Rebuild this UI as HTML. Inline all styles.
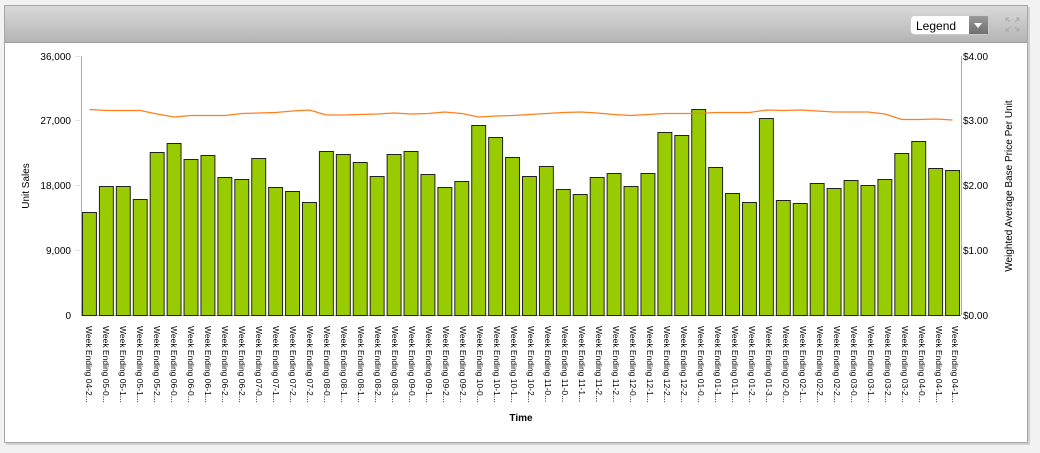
<!DOCTYPE html>
<html><head><meta charset="utf-8"><style>
body{margin:0;background:#f2f2f2;width:1040px;height:448px;overflow:hidden;font-family:"Liberation Sans",sans-serif}
</style></head><body>
<svg width="1040" height="448" xmlns="http://www.w3.org/2000/svg" font-family="Liberation Sans, sans-serif">
<defs><linearGradient id="hg" x1="0" y1="0" x2="0" y2="1"><stop offset="0" stop-color="#dadada"/><stop offset="1" stop-color="#b4b4b4"/></linearGradient>
<linearGradient id="bg" x1="0" y1="0" x2="0" y2="1"><stop offset="0" stop-color="#9a9a9a"/><stop offset="1" stop-color="#6f6f6f"/></linearGradient></defs>
<rect x="6" y="7" width="1024" height="438" fill="#d0d0d0"/>
<rect x="4.5" y="5.5" width="1023" height="437" fill="#fff" stroke="#a8a8a8"/>
<rect x="5" y="6" width="1022" height="36" fill="url(#hg)"/>
<line x1="5" y1="42.5" x2="1027" y2="42.5" stroke="#a0a0a0"/>
<rect x="910.5" y="15.5" width="78" height="19" rx="4" fill="#fff" stroke="#ccc"/>
<rect x="969" y="16" width="19" height="18" fill="url(#bg)"/>
<polygon points="974,23 982,23 978,28" fill="#fff"/>
<text x="916" y="30" font-size="12" fill="#000">Legend</text>
<g stroke="#aaa" stroke-width="1" fill="none"><path d="M1006 18l4 4M1006 18h3M1006 18v3M1019 18l-4 4M1019 18h-3M1019 18v3M1006 31l4-4M1006 31h3M1006 31v-3M1019 31l-4-4M1019 31h-3M1019 31v-3"/></g>
<g font-size="10" fill="#000" text-anchor="end">
<text x="71" y="60">36,000</text><text x="71" y="124">27,000</text><text x="71" y="189">18,000</text><text x="71" y="254">9,000</text><text x="71" y="319">0</text></g>
<g stroke="#d6e2f0"><line x1="75" y1="56.5" x2="80" y2="56.5"/><line x1="75" y1="120.5" x2="80" y2="120.5"/><line x1="75" y1="185.5" x2="80" y2="185.5"/><line x1="75" y1="250.5" x2="80" y2="250.5"/></g>
<g font-size="10" fill="#000"><text x="963" y="60">$4.00</text><text x="963" y="124">$3.00</text><text x="963" y="189">$2.00</text><text x="963" y="254">$1.00</text><text x="963" y="319">$0.00</text></g>
<line x1="81.5" y1="56" x2="81.5" y2="315" stroke="#aaa"/>
<line x1="961.5" y1="56" x2="961.5" y2="315" stroke="#aaa"/>
<line x1="81" y1="315.5" x2="961" y2="315.5" stroke="#aaa"/>
<text transform="translate(29,186) rotate(-90)" font-size="10" text-anchor="middle">Unit Sales</text>
<text transform="translate(1012,186) rotate(-90)" font-size="10" text-anchor="middle">Weighted Average Base Price Per Unit</text>
<text x="521" y="421" font-size="10" font-weight="bold" text-anchor="middle">Time</text>
<g transform="translate(81,0) scale(0.9955,1) translate(-81,0)">
<g fill="#99cc00" stroke="#222" stroke-width="1">
<rect x="82.5" y="212.5" width="14" height="103"/>
<rect x="99.5" y="186.5" width="14" height="129"/>
<rect x="116.5" y="186.5" width="14" height="129"/>
<rect x="133.5" y="199.5" width="14" height="116"/>
<rect x="150.5" y="152.5" width="14" height="163"/>
<rect x="167.5" y="143.5" width="14" height="172"/>
<rect x="184.5" y="159.5" width="14" height="156"/>
<rect x="201.5" y="155.5" width="14" height="160"/>
<rect x="218.5" y="177.5" width="14" height="138"/>
<rect x="235.5" y="179.5" width="14" height="136"/>
<rect x="252.5" y="158.5" width="14" height="157"/>
<rect x="269.5" y="187.5" width="14" height="128"/>
<rect x="286.5" y="191.5" width="14" height="124"/>
<rect x="303.5" y="202.5" width="14" height="113"/>
<rect x="320.5" y="151.5" width="14" height="164"/>
<rect x="337.5" y="154.5" width="14" height="161"/>
<rect x="354.5" y="162.5" width="14" height="153"/>
<rect x="371.5" y="176.5" width="14" height="139"/>
<rect x="388.5" y="154.5" width="14" height="161"/>
<rect x="405.5" y="151.5" width="14" height="164"/>
<rect x="422.5" y="174.5" width="14" height="141"/>
<rect x="439.5" y="187.5" width="14" height="128"/>
<rect x="456.5" y="181.5" width="14" height="134"/>
<rect x="473.5" y="125.5" width="14" height="190"/>
<rect x="490.5" y="137.5" width="14" height="178"/>
<rect x="507.5" y="157.5" width="14" height="158"/>
<rect x="524.5" y="176.5" width="14" height="139"/>
<rect x="541.5" y="166.5" width="14" height="149"/>
<rect x="558.5" y="189.5" width="14" height="126"/>
<rect x="575.5" y="194.5" width="14" height="121"/>
<rect x="592.5" y="177.5" width="14" height="138"/>
<rect x="609.5" y="173.5" width="14" height="142"/>
<rect x="626.5" y="186.5" width="14" height="129"/>
<rect x="643.5" y="173.5" width="14" height="142"/>
<rect x="660.5" y="132.5" width="14" height="183"/>
<rect x="677.5" y="135.5" width="14" height="180"/>
<rect x="694.5" y="109.5" width="14" height="206"/>
<rect x="711.5" y="167.5" width="14" height="148"/>
<rect x="728.5" y="193.5" width="14" height="122"/>
<rect x="745.5" y="202.5" width="14" height="113"/>
<rect x="762.5" y="118.5" width="14" height="197"/>
<rect x="779.5" y="200.5" width="14" height="115"/>
<rect x="796.5" y="203.5" width="14" height="112"/>
<rect x="813.5" y="183.5" width="14" height="132"/>
<rect x="830.5" y="188.5" width="14" height="127"/>
<rect x="847.5" y="180.5" width="14" height="135"/>
<rect x="864.5" y="185.5" width="14" height="130"/>
<rect x="881.5" y="179.5" width="14" height="136"/>
<rect x="898.5" y="153.5" width="14" height="162"/>
<rect x="915.5" y="141.5" width="14" height="174"/>
<rect x="932.5" y="168.5" width="14" height="147"/>
<rect x="949.5" y="170.5" width="14" height="145"/>
</g>
<polyline fill="none" stroke="#ff7f1f" stroke-width="1.3" points="89.5,109.5 106.5,110.5 123.5,110.5 140.5,110.5 157.5,114 174.5,117 191.5,115.5 208.5,115.5 225.5,115.5 242.5,113.5 259.5,113 276.5,112.5 293.5,111 310.5,110 327.5,115 344.5,115 361.5,114.5 378.5,114 395.5,113 412.5,114 429.5,113.5 446.5,112 463.5,113.5 480.5,117 497.5,116 514.5,115.5 531.5,114.5 548.5,113.5 565.5,112.5 582.5,112 599.5,113 616.5,114.5 633.5,115.5 650.5,114.5 667.5,113.5 684.5,113.5 701.5,113.5 718.5,112.5 735.5,112.5 752.5,112.5 769.5,110 786.5,110.5 803.5,110 820.5,111 837.5,112 854.5,112 871.5,112 888.5,114 905.5,119.5 922.5,119.5 939.5,119 956.5,120"/>
</g>
<g font-size="8.5" fill="#000">
<text transform="translate(86,326) rotate(90)">Week Ending 04-2...</text>
<text transform="translate(103,326) rotate(90)">Week Ending 05-0...</text>
<text transform="translate(120,326) rotate(90)">Week Ending 05-1...</text>
<text transform="translate(137,326) rotate(90)">Week Ending 05-1...</text>
<text transform="translate(154,326) rotate(90)">Week Ending 05-2...</text>
<text transform="translate(171,326) rotate(90)">Week Ending 06-0...</text>
<text transform="translate(188,326) rotate(90)">Week Ending 06-0...</text>
<text transform="translate(205,326) rotate(90)">Week Ending 06-1...</text>
<text transform="translate(222,326) rotate(90)">Week Ending 06-2...</text>
<text transform="translate(239,326) rotate(90)">Week Ending 06-2...</text>
<text transform="translate(256,326) rotate(90)">Week Ending 07-0...</text>
<text transform="translate(273,326) rotate(90)">Week Ending 07-1...</text>
<text transform="translate(290,326) rotate(90)">Week Ending 07-2...</text>
<text transform="translate(307,326) rotate(90)">Week Ending 07-2...</text>
<text transform="translate(324,326) rotate(90)">Week Ending 08-0...</text>
<text transform="translate(341,326) rotate(90)">Week Ending 08-1...</text>
<text transform="translate(358,326) rotate(90)">Week Ending 08-1...</text>
<text transform="translate(375,326) rotate(90)">Week Ending 08-2...</text>
<text transform="translate(392,326) rotate(90)">Week Ending 08-3...</text>
<text transform="translate(409,326) rotate(90)">Week Ending 09-0...</text>
<text transform="translate(426,326) rotate(90)">Week Ending 09-1...</text>
<text transform="translate(443,326) rotate(90)">Week Ending 09-2...</text>
<text transform="translate(460,326) rotate(90)">Week Ending 09-2...</text>
<text transform="translate(477,326) rotate(90)">Week Ending 10-0...</text>
<text transform="translate(494,326) rotate(90)">Week Ending 10-1...</text>
<text transform="translate(511,326) rotate(90)">Week Ending 10-1...</text>
<text transform="translate(528,326) rotate(90)">Week Ending 10-2...</text>
<text transform="translate(545,326) rotate(90)">Week Ending 11-0...</text>
<text transform="translate(562,326) rotate(90)">Week Ending 11-0...</text>
<text transform="translate(579,326) rotate(90)">Week Ending 11-1...</text>
<text transform="translate(596,326) rotate(90)">Week Ending 11-2...</text>
<text transform="translate(613,326) rotate(90)">Week Ending 11-2...</text>
<text transform="translate(630,326) rotate(90)">Week Ending 12-0...</text>
<text transform="translate(647,326) rotate(90)">Week Ending 12-1...</text>
<text transform="translate(664,326) rotate(90)">Week Ending 12-2...</text>
<text transform="translate(681,326) rotate(90)">Week Ending 12-2...</text>
<text transform="translate(698,326) rotate(90)">Week Ending 01-0...</text>
<text transform="translate(715,326) rotate(90)">Week Ending 01-1...</text>
<text transform="translate(732,326) rotate(90)">Week Ending 01-1...</text>
<text transform="translate(749,326) rotate(90)">Week Ending 01-2...</text>
<text transform="translate(766,326) rotate(90)">Week Ending 01-3...</text>
<text transform="translate(783,326) rotate(90)">Week Ending 02-0...</text>
<text transform="translate(800,326) rotate(90)">Week Ending 02-1...</text>
<text transform="translate(817,326) rotate(90)">Week Ending 02-2...</text>
<text transform="translate(834,326) rotate(90)">Week Ending 02-2...</text>
<text transform="translate(851,326) rotate(90)">Week Ending 03-0...</text>
<text transform="translate(868,326) rotate(90)">Week Ending 03-1...</text>
<text transform="translate(885,326) rotate(90)">Week Ending 03-2...</text>
<text transform="translate(902,326) rotate(90)">Week Ending 03-2...</text>
<text transform="translate(919,326) rotate(90)">Week Ending 04-0...</text>
<text transform="translate(936,326) rotate(90)">Week Ending 04-1...</text>
<text transform="translate(952,326) rotate(90)">Week Ending 04-1...</text>
</g>
</svg>
</body></html>
